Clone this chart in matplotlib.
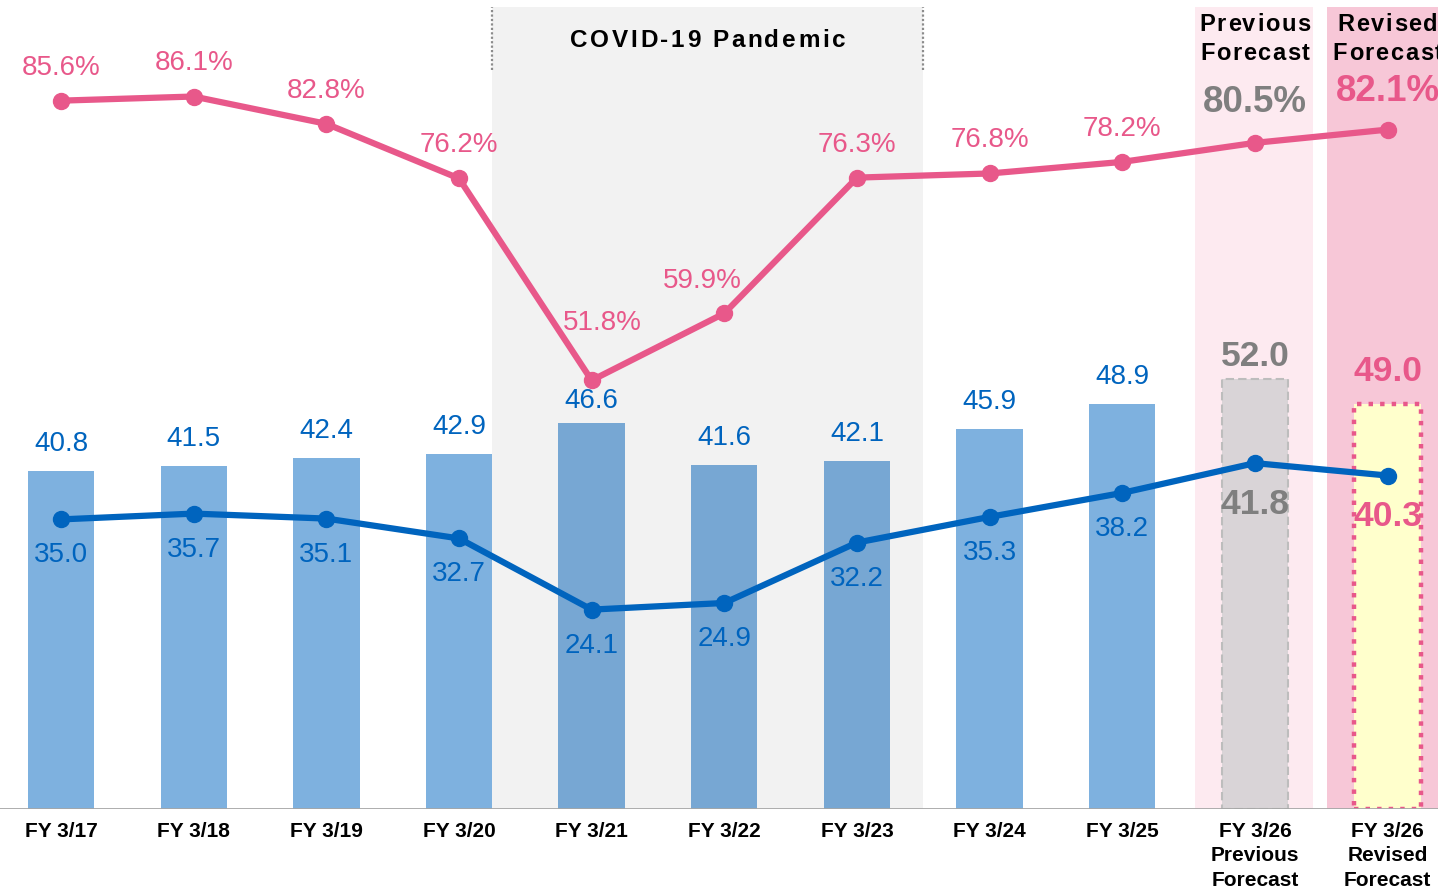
import matplotlib
matplotlib.use("Agg")
import matplotlib.pyplot as plt
from matplotlib.font_manager import FontProperties
import numpy as np

categories = ["FY 3/17", "FY 3/18", "FY 3/19", "FY 3/20", "FY 3/21", "FY 3/22",
              "FY 3/23", "FY 3/24", "FY 3/25", "FY 3/26\nPrevious\nForecast",
              "FY 3/26\nRevised\nForecast"]
bar_values = [40.8, 41.5, 42.4, 42.9, 46.6, 41.6, 42.1, 45.9, 48.9, 52.0, 49.0]
line_values = [35.0, 35.7, 35.1, 32.7, 24.1, 24.9, 32.2, 35.3, 38.2, 41.8, 40.3]
pct_values = [85.6, 86.1, 82.8, 76.2, 51.8, 59.9, 76.3, 76.8, 78.2, 80.5, 82.1]

plt.rcParams['font.family'] = ['Liberation Sans', 'DejaVu Sans']

BLUE_BAR = "#7EB1DF"
BLUE = "#0064BE"
PINK = "#E8588A"
GRAY_TXT = "#7F7F7F"

PX = 0.72  # px -> pt at dpi 100

fig = plt.figure(figsize=(14.38, 8.92), dpi=100)
ax = fig.add_axes([0, 0.093, 1, 0.899])
x = np.arange(len(categories))
ax.set_xlim(-0.46, 10.38)
ax.set_ylim(0, 96.9)
renderer = fig.canvas.get_renderer()


def spaced_text(xd, yd, s, size, gap_px, dy_px=0):
    """Draw bold text centred at data point with extra letter spacing."""
    prop = FontProperties(family="Liberation Sans", weight="bold", size=size)
    widths = [renderer.get_text_width_height_descent(ch, prop, ismath=False)[0] for ch in s]
    total = sum(widths) + gap_px * (len(s) - 1)
    cur = -total / 2
    for ch, wch in zip(s, widths):
        ax.annotate(ch, (xd, yd), xytext=(cur * PX, dy_px * PX), textcoords="offset points",
                    ha="left", va="center", fontproperties=prop, color="black",
                    zorder=8, annotation_clip=False)
        cur += wch + gap_px


# background bands
ax.axvspan(3.25, 6.5, color="black", alpha=0.05, lw=0, zorder=3)
ax.axvspan(8.545, 9.44, color="#FDEAF0", lw=0, zorder=0)
ax.axvspan(9.54, 10.6, color="#F7C7D7", lw=0, zorder=0)
for xv in (3.25, 6.5):
    ax.plot([xv, xv], [89.3, 96.9], color="#8C8C8C", lw=1.6, ls=(0, (1, 1)), zorder=4, clip_on=False)

# bars
w = 0.5
n_hist = 9
ax.bar(x[:n_hist], bar_values[:n_hist], width=w, color=BLUE_BAR, zorder=2)
ax.bar(x[9], bar_values[9], width=w, color="#D9D4D7", edgecolor="#BDBDBD",
       linewidth=1.5, linestyle=(0, (4, 2)), zorder=2)
ax.bar(x[10], bar_values[10], width=w, color="#FFFFCC", edgecolor=PINK,
       linewidth=3.2, linestyle=(0, (1, 1.6)), zorder=2)

# lines
ax.plot(x, pct_values, color=PINK, lw=4.5, marker="o", ms=11.5, zorder=6)
ax.plot(x, line_values, color=BLUE, lw=4.5, marker="o", ms=11.5, zorder=6)

# baseline
ax.axhline(0, color="#A6A6A6", lw=2, zorder=5)

# bar labels
bar_off = [27, 27, 27, 27, 22, 27, 27, 27, 27, 22, 32]
for i, v in enumerate(bar_values):
    if i < 9:
        c, fw, fs = BLUE, "normal", 20
    elif i == 9:
        c, fw, fs = GRAY_TXT, "bold", 25.5
    else:
        c, fw, fs = PINK, "bold", 25.5
    ax.annotate(f"{v:.1f}", (x[i], v), xytext=(0, bar_off[i] * PX), textcoords="offset points",
                ha="center", va="center", color=c, fontsize=fs, fontweight=fw, zorder=8)

# blue line labels
for i, v in enumerate(line_values):
    if i < 9:
        c, fw, fs, off = BLUE, "normal", 20, -36
    elif i == 9:
        c, fw, fs, off = GRAY_TXT, "bold", 25.5, -41
    else:
        c, fw, fs, off = PINK, "bold", 25.5, -41
    ax.annotate(f"{v:.1f}", (x[i], v), xytext=(0, off * PX), textcoords="offset points",
                ha="center", va="center", color=c, fontsize=fs, fontweight=fw, zorder=8)

# pink line labels
pct_off = [(0, 33), (0, 34), (0, 33), (0, 33), (11, 57), (-22, 32), (0, 33), (0, 33), (0, 33), (0, 40), (0, 38)]
for i, v in enumerate(pct_values):
    if i < 9:
        c, fw, fs = PINK, "normal", 20
    elif i == 9:
        c, fw, fs = GRAY_TXT, "bold", 26.5
    else:
        c, fw, fs = PINK, "bold", 26.5
    dx, dy = pct_off[i]
    ax.annotate(f"{v:.1f}%", (x[i], v), xytext=(dx * PX, dy * PX), textcoords="offset points",
                ha="center", va="center", color=c, fontsize=fs, fontweight=fw, zorder=8)

# headers (letter-spaced)
top = 96.9
spaced_text(4.875, top, "COVID-19 Pandemic", 17.5, 2.6, dy_px=-33)
spaced_text(x[9], top, "Previous", 17, 1.6, dy_px=-17)
spaced_text(x[9], top, "Forecast", 17, 1.6, dy_px=-46)
spaced_text(x[10], top, "Revised", 17, 1.6, dy_px=-17)
spaced_text(x[10], top, "Forecast", 17, 1.6, dy_px=-46)

# axes styling
ax.set_xticks(x)
ax.set_xticklabels(categories, fontsize=15, fontweight="bold", linespacing=1.38)
ax.tick_params(axis="x", length=0, pad=9)
ax.set_yticks([])
for s in ax.spines.values():
    s.set_visible(False)

fig.savefig("out.png", dpi=100)
